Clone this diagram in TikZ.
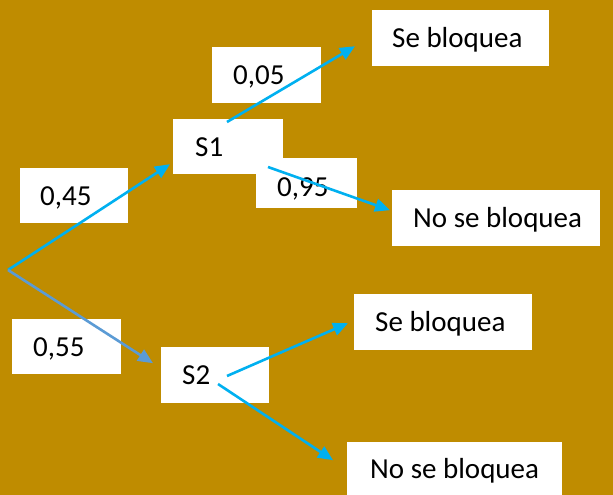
\documentclass[tikz,border=0pt]{standalone}
\usepackage{fontspec}
\setmainfont{Carlito}
\usepackage{tikz}
\usetikzlibrary{positioning,calc,arrows.meta}
\definecolor{fondo}{RGB}{191,140,0}
\definecolor{azul}{RGB}{0,176,240}
\definecolor{azulgris}{RGB}{91,155,213}

\begin{document}
\begin{tikzpicture}[x=1pt, y=-1pt,
  caja/.style={rectangle, fill=white, inner sep=0pt, anchor=north west},
  texto/.style={anchor=base west, inner sep=0pt, font=\fontsize{29}{34}\selectfont},
  flecha/.style={draw=azul, line width=2.6pt, -{Triangle[length=15pt,width=13pt]}}]
\useasboundingbox (0,0) rectangle (613,495);
\fill[fondo] (0,0) rectangle (613,495);

\coordinate (raiz) at (8,270);

% probabilidades primer nivel
\node (p45) [caja, minimum width=108pt, minimum height=55pt] at (20,168) {};
\node [texto] at ($(p45.west)+(20,9.5)$) {0,45};
\node (p55) [caja, minimum width=109pt, minimum height=55pt] at (12,319) {};
\node [texto] at ($(p55.west)+(21,9.5)$) {0,55};

% S1
\node (s1) [caja, minimum width=110pt, minimum height=55pt] at (173,119) {};
\node [texto] at ($(s1.west)+(22,9.5)$) {S1};
\node (p05) [caja, minimum width=109pt, minimum height=56pt] at (212,47) {};
\node [texto] at ($(p05.west)+(21,9.5)$) {0,05};
\node (p95) [caja, minimum width=101pt, minimum height=50pt] at (256,158) {};
\node [texto] at ($(p95.west)+(21,13)$) {0,95};
\node (se1) [caja, minimum width=177pt, minimum height=56pt] at (372,10) {};
\node [texto] at ($(se1.west)+(20,9.5)$) {Se bloquea};
\node (no1) [caja, minimum width=208pt, minimum height=56pt] at (392,190) {};
\node [texto] at ($(no1.west)+(21,9.5)$) {No se bloquea};

% S2
\node (s2) [caja, minimum width=108pt, minimum height=56pt] at (161,347) {};
\node [texto] at ($(s2.west)+(21,9.5)$) {S2};
\node (se2) [caja, minimum width=178pt, minimum height=56pt] at (354,294) {};
\node [texto] at ($(se2.west)+(21,9.5)$) {Se bloquea};
\node (no2) [caja, minimum width=215pt, minimum height=53pt] at (347,442) {};
\node [texto] at ($(no2.west)+(23,9.5)$) {No se bloquea};

% flechas
\draw [flecha] (raiz) -- ($(s1.west)+(-3,17.5)$);
\draw [flecha, draw=azulgris] (raiz) -- ($(s2.west)+(-8,-12)$);
\draw [flecha] ($(s1.north west)+(54,3)$) -- ($(se1.west)+(-17,8)$);
\draw [flecha] ($(s1.north west)+(95,48)$) -- ($(no1.west)+(-2,-8)$);
\draw [flecha] ($(s2.north west)+(66,29)$) -- ($(se2.west)+(-6,1)$);
\draw [flecha] ($(s2.north west)+(57,37)$) -- ($(no2.west)+(-14,-8.5)$);
\end{tikzpicture}
\end{document}
